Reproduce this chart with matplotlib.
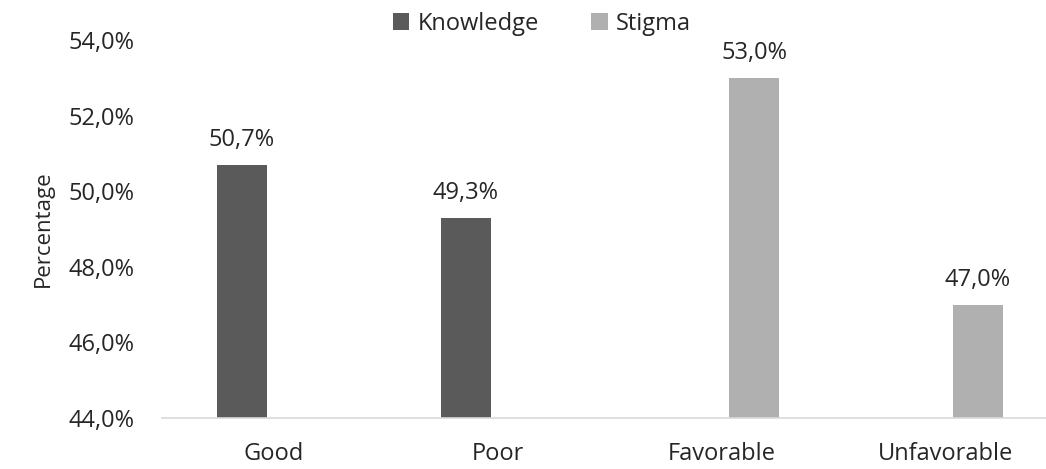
import numpy as np
import matplotlib
matplotlib.use('Agg')
import matplotlib.pyplot as plt
from matplotlib.ticker import FuncFormatter

CATEGORIES = ['Good', 'Poor', 'Favorable', 'Unfavorable']
KNOWLEDGE = [50.7, 49.3, 0.0, 0.0]
STIGMA = [0.0, 0.0, 53.0, 47.0]
SERIES = ['Knowledge', 'Stigma']
Y_TICKS = [44, 46, 48, 50, 52, 54]

plt.rcParams['font.family'] = ['Open Sans', 'DejaVu Sans']
TEXT = '#262626'

def pct(v):
	return ('%.1f%%' % v).replace('.', ',')

fig = plt.figure(figsize=(10.46, 4.69), dpi=100)
ax = fig.add_axes([162 / 1046, 1 - 418 / 469, 896 / 1046, 378 / 469])

x = np.arange(len(CATEGORIES))
width = 0.223
offset = 0.143
b1 = ax.bar(x - offset, KNOWLEDGE, width, color='#5a5a5a', label=SERIES[0])
b2 = ax.bar(x + offset, STIGMA, width, color='#b0b0b0', label=SERIES[1])

# data labels only for real bars
for bars, vals in ((b1, KNOWLEDGE), (b2, STIGMA)):
	for rect, v in zip(bars, vals):
		if v > 0:
			ax.annotate(pct(v), (rect.get_x() + rect.get_width() / 2, v),
				xytext=(0, 9), textcoords='offset points',
				ha='center', va='bottom', fontsize=17, color=TEXT)

ax.set_xlim(-0.5, len(CATEGORIES) - 0.5)
ax.set_ylim(44, 54)
ax.set_yticks(Y_TICKS)
ax.yaxis.set_major_formatter(FuncFormatter(lambda v, p: pct(v)))
ax.set_xticks(x)
ax.set_xticklabels(CATEGORIES)
ax.tick_params(axis='both', length=0, labelsize=17, labelcolor=TEXT)
ax.tick_params(axis='x', pad=17)
ax.tick_params(axis='y', pad=20)
ax.set_ylabel('Percentage', fontsize=16, color=TEXT, labelpad=10)

for s in ('top', 'right', 'left'):
	ax.spines[s].set_visible(False)
ax.spines['bottom'].set_color('#d9d9d9')
ax.spines['bottom'].set_linewidth(1.2)

fig.legend(loc='upper center', bbox_to_anchor=(0.518, 1.02), ncol=2, frameon=False,
	fontsize=17, handlelength=0.7, handleheight=0.7, handletextpad=0.35,
	columnspacing=2.2, labelcolor=TEXT)

fig.savefig('out.png', dpi=100)
